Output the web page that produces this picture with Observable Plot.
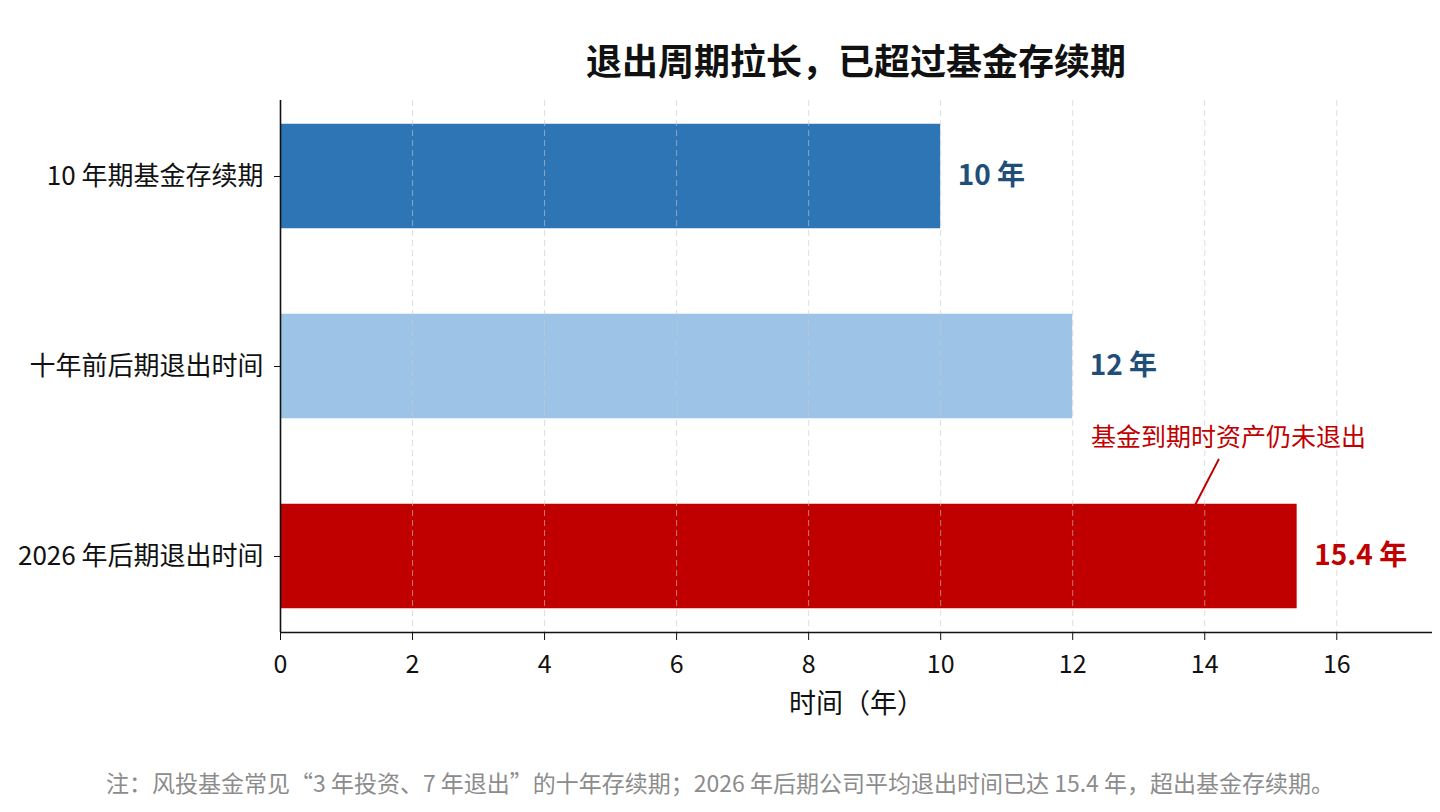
<!DOCTYPE html>
<html>
<head>
<meta charset="utf-8">
<script src="https://cdn.jsdelivr.net/npm/d3@7"></script>
<script src="https://cdn.jsdelivr.net/npm/@observablehq/plot@0.6"></script>
<style>
  html, body { margin: 0; padding: 0; background: #fff; }
  body { width: 1440px; height: 812px; position: relative; overflow: hidden; font-family: "Noto Sans CJK SC", "Noto Sans", sans-serif; }
  #title { position: absolute; left: 280px; width: 1152px; top: 36px; text-align: center; font-size: 36px; font-weight: bold; color: #111; line-height: 46px; }
  #note { position: absolute; left: 0; width: 1440px; top: 767px; text-align: center; font-size: 23px; color: #8c8c8c; line-height: 30px; }
  #chart { position: absolute; left: 0; top: 0; }
</style>
</head>
<body>
<div id="chart"></div>
<div id="title">退出周期拉长，已超过基金存续期</div>
<div id="note">注：风投基金常见“3 年投资、7 年退出”的十年存续期；2026 年后期公司平均退出时间已达 15.4 年，超出基金存续期。</div>
<script>
const categories = ["10 年期基金存续期", "十年前后期退出时间", "2026 年后期退出时间"];
const values = [10, 12, 15.4];
const valueLabels = ["10 年", "12 年", "15.4 年"];
const barColors = ["#2E75B6", "#9DC3E6", "#C00000"];
const labelColors = ["#1F4E79", "#1F4E79", "#C00000"];
const xTicks = [0, 2, 4, 6, 8, 10, 12, 14, 16];
const xDomain = [0, 17.45];
const yDomain = [-0.4, 2.4];
const barHalf = 0.275;
const xAxisLabel = "时间（年）";
const annotationText = ["基金到期时资产仍未退出"];
const annotationTextPos = [14.36, 1.374];
const annotationLine = [[14.21, 1.49], [13.86, 1.725]];

const rows = categories.map((c, i) => ({
  i, category: c, value: values[i], label: valueLabels[i],
  color: barColors[i], labelColor: labelColors[i]
}));

const plot = Plot.plot({
  width: 1440,
  height: 812,
  marginTop: 100,
  marginBottom: 180,
  marginLeft: 280,
  marginRight: 8,
  style: { fontFamily: "'Noto Sans CJK SC', 'Noto Sans', sans-serif", fontSize: "25px", color: "#111", background: "#fff" },
  x: { domain: xDomain },
  y: { domain: yDomain, reverse: true },
  color: { type: "identity" },
  marks: [
    Plot.rect(rows, { x1: 0, x2: "value", y1: d => d.i - barHalf, y2: d => d.i + barHalf, fill: "color" }),
    Plot.gridX(xTicks, { stroke: "#c8c8c8", strokeOpacity: 0.6, strokeDasharray: "6,4", strokeWidth: 1 }),
    Plot.text(rows, { x: "value", y: "i", text: "label", dx: 17, textAnchor: "start", fill: "labelColor", fontSize: 28, fontWeight: "bold" }),
    Plot.text(annotationText, { x: annotationTextPos[0], y: annotationTextPos[1], text: d => d, fill: "#C00000", fontSize: 25, textAnchor: "middle" }),
    Plot.line(annotationLine, { x: d => d[0], y: d => d[1], stroke: "#C00000", strokeWidth: 2 }),
    Plot.ruleX([xDomain[0]], { stroke: "#111", strokeWidth: 1.6 }),
    Plot.ruleY([yDomain[1]], { stroke: "#111", strokeWidth: 1.6 }),
    Plot.axisY({ ticks: [0, 1, 2], tickFormat: i => categories[i], tickSize: 6, tickPadding: 11, fontSize: 26, label: null, stroke: "#111" }),
    Plot.axisX({ ticks: xTicks, tickSize: 8, tickPadding: 15, fontSize: 25, label: null, stroke: "#111" }),
    Plot.axisX({ ticks: [], label: xAxisLabel, labelAnchor: "center", labelArrow: "none", labelOffset: 80, fontSize: 27 })
  ]
});
document.getElementById("chart").appendChild(plot);
</script>
</body>
</html>
